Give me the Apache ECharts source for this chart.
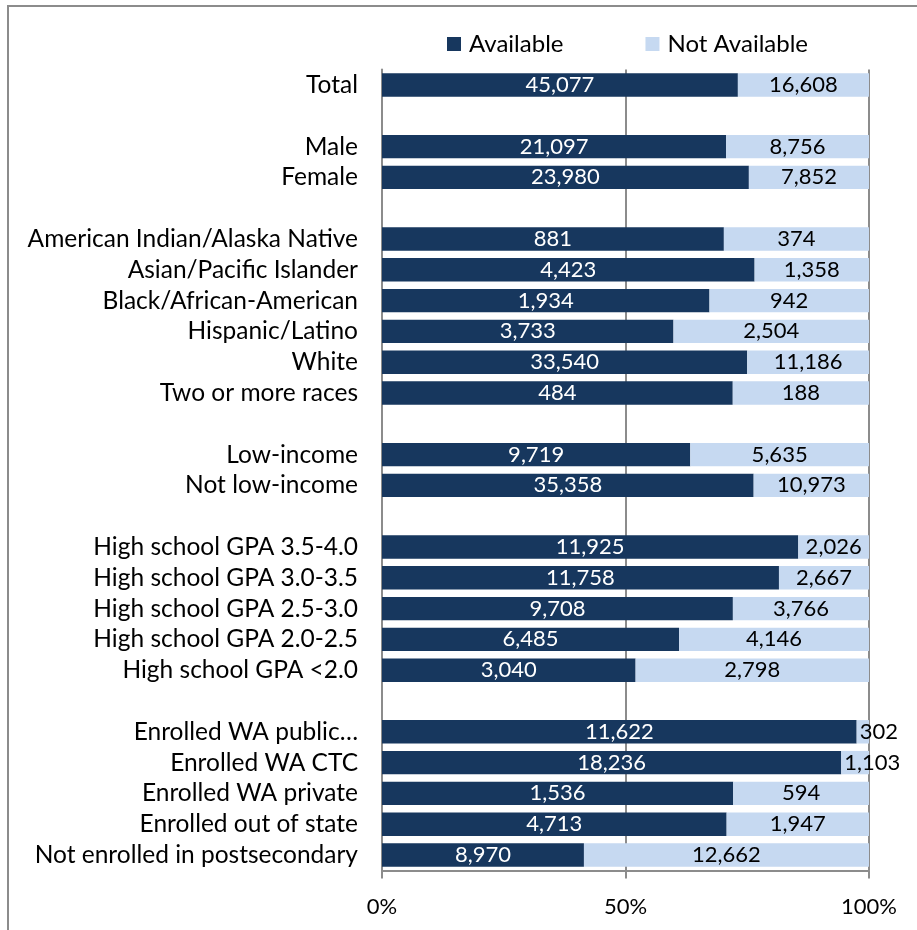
<!DOCTYPE html>
<html><head><meta charset="utf-8">
<script src="https://cdn.jsdelivr.net/npm/echarts@6/dist/echarts.min.js"></script>
<style>html,body{margin:0;padding:0;background:#fff}#c{width:917px;height:930px}</style>
</head><body><div id="c"></div>
<script>
var categories = ['Total','', 'Male','Female','', 'American Indian/Alaska Native','Asian/Pacific Islander','Black/African-American','Hispanic/Latino','White','Two or more races','', 'Low-income','Not low-income','', 'High school GPA 3.5-4.0','High school GPA 3.0-3.5','High school GPA 2.5-3.0','High school GPA 2.0-2.5','High school GPA <2.0','', 'Enrolled WA public\u2026','Enrolled WA CTC','Enrolled WA private','Enrolled out of state','Not enrolled in postsecondary'];
var available = [45077,null,21097,23980,null,881,4423,1934,3733,33540,484,null,9719,35358,null,11925,11758,9708,6485,3040,null,11622,18236,1536,4713,8970];
var notAvailable = [16608,null,8756,7852,null,374,1358,942,2504,11186,188,null,5635,10973,null,2026,2667,3766,4146,2798,null,302,1103,594,1947,12662];
var seriesNames = ['Available','Not Available'];
var xTicks = [0,50,100];

var FONT = 'Lato';
function pct(a, i){ var t = available[i] + notAvailable[i]; return a[i] == null ? null : a[i] / t * 100; }
function fmt(v){ return v.toLocaleString('en-US'); }

var availData = available.map(function(v,i){ return pct(available,i); });
var notData = notAvailable.map(function(v,i){
  var p = pct(notAvailable,i);
  if (p == null) return null;
  if (p < 8) return {value:p, label:{position:'insideLeft', distance:3}};
  return p;
});

var chart = echarts.init(document.getElementById('c'));
chart.setOption({
  animation:false,
  textStyle:{fontFamily:FONT},
  graphic:[{type:'rect', shape:{x:8,y:6,width:1200,height:1200}, style:{fill:'none', stroke:'#8c8c8c', lineWidth:2}, silent:true}],
  legend:{
    data:seriesNames, left:442, top:27, itemWidth:14, itemHeight:14, itemGap:82,
    icon:'rect', textStyle:{fontFamily:FONT, fontSize:24, color:'#000', padding:[0,0,0,3]}
  },
  grid:{left:382, right:48, top:69.6, bottom:59.6, containLabel:false},
  xAxis:{
    type:'value', min:xTicks[0], max:xTicks[xTicks.length-1], interval:50,
    axisLine:{show:true, lineStyle:{color:'#8c8c8c', width:2}},
    axisTick:{show:true, length:8, lineStyle:{color:'#8c8c8c', width:2}},
    splitLine:{show:true, lineStyle:{color:'#8c8c8c', width:2}},
    axisLabel:{formatter:'{value}%', fontFamily:FONT, fontSize:22, color:'#000', margin:26}
  },
  yAxis:{
    type:'category', data:categories, inverse:true,
    axisLine:{show:true, lineStyle:{color:'#8c8c8c', width:2}},
    axisTick:{show:false},
    axisLabel:{fontFamily:FONT, fontSize:24.5, color:'#000', margin:24, interval:0}
  },
  series:[
    {name:seriesNames[0], type:'bar', stack:'s', data:availData, barWidth:'76%',
     itemStyle:{color:'#17375E'},
     label:{show:true, position:'inside', color:'#fff', fontFamily:FONT, fontSize:22,
       formatter:function(p){ return fmt(available[p.dataIndex]); }}},
    {name:seriesNames[1], type:'bar', stack:'s', data:notData, barWidth:'76%',
     itemStyle:{color:'#C6D9F1'},
     label:{show:true, position:'inside', color:'#000', fontFamily:FONT, fontSize:22,
       formatter:function(p){ return fmt(notAvailable[p.dataIndex]); }}}
  ]
});
</script></body></html>
